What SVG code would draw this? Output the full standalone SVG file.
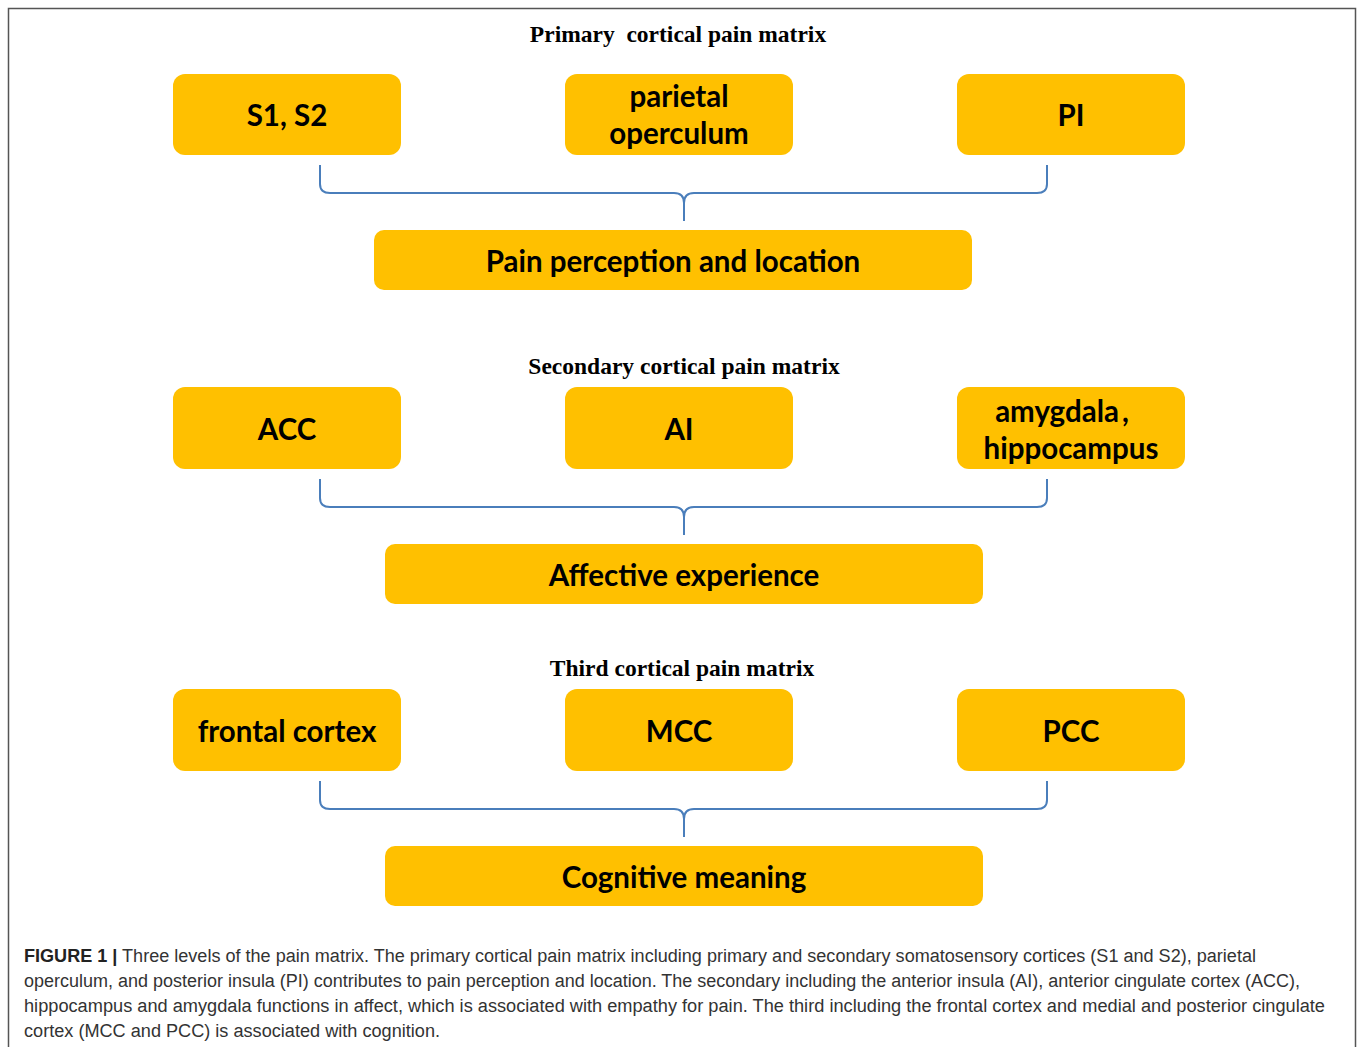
<svg xmlns="http://www.w3.org/2000/svg" width="1357" height="1047" viewBox="0 0 1357 1047">
<style>
.box{fill:#FFC000;}
.bt{font-family:Lato,"Noto Sans",sans-serif;font-weight:bold;font-size:29.5px;fill:#000;text-anchor:middle;}
.ttl{font-family:"Liberation Serif",serif;font-weight:bold;font-size:23.5px;fill:#000;text-anchor:middle;}
.br{fill:none;stroke:#4A7EBB;stroke-width:2;}
.cap{font-family:"Liberation Sans",Arial,sans-serif;font-size:18px;fill:#333;}
</style>
<rect x="0" y="0" width="1357" height="1047" fill="#fff"/>
<path d="M8.5,1047 V8.5 H1355.5 V1047" fill="none" stroke="#555" stroke-width="1.5"/>
<g id="titles">
<text class="ttl" x="678" y="42" xml:space="preserve">Primary  cortical pain matrix</text>
<text class="ttl" x="684" y="374">Secondary cortical pain matrix</text>
<text class="ttl" x="682" y="676">Third cortical pain matrix</text>
</g>
<g id="n-s1s2"><rect class="box" x="173" y="74" width="228" height="81" rx="12"/><text class="bt" x="287" y="126">S1, S2</text></g>
<g id="n-parietal"><rect class="box" x="565" y="74" width="228" height="81" rx="12"/><text class="bt" x="679" y="107">parietal</text><text class="bt" x="679" y="144">operculum</text></g>
<g id="n-pi"><rect class="box" x="957" y="74" width="228" height="81" rx="12"/><text class="bt" x="1071" y="126">PI</text></g>
<g id="n-pain"><rect class="box" x="374" y="230" width="598" height="60" rx="10"/><text class="bt" x="673" y="272">Pain perception and location</text></g>
<g id="n-acc"><rect class="box" x="173" y="387" width="228" height="82" rx="12"/><text class="bt" x="287" y="440">ACC</text></g>
<g id="n-ai"><rect class="box" x="565" y="387" width="228" height="82" rx="12"/><text class="bt" x="679" y="440">AI</text></g>
<g id="n-amyg"><rect class="box" x="957" y="387" width="228" height="82" rx="12"/><text class="bt" x="1062" y="422">amygdala<tspan dx="3">,</tspan></text><text class="bt" x="1071" y="459">hippocampus</text></g>
<g id="n-affect"><rect class="box" x="385" y="544" width="598" height="60" rx="10"/><text class="bt" x="684" y="586">Affective experience</text></g>
<g id="n-frontal"><rect class="box" x="173" y="689" width="228" height="82" rx="12"/><text class="bt" x="287" y="742">frontal cortex</text></g>
<g id="n-mcc"><rect class="box" x="565" y="689" width="228" height="82" rx="12"/><text class="bt" x="679" y="742">MCC</text></g>
<g id="n-pcc"><rect class="box" x="957" y="689" width="228" height="82" rx="12"/><text class="bt" x="1071" y="742">PCC</text></g>
<g id="n-cog"><rect class="box" x="385" y="846" width="598" height="60" rx="10"/><text class="bt" x="684" y="888">Cognitive meaning</text></g>
<g id="connectors">
<path class="br" d="M320,165 V184 Q320,193 330,193 H674 Q684,193 684,203 V221 M684,203 Q684,193 694,193 H1037 Q1047,193 1047,184 V165"/>
<path class="br" d="M320,479 V498 Q320,507 330,507 H674 Q684,507 684,517 V535 M684,517 Q684,507 694,507 H1037 Q1047,507 1047,498 V479"/>
<path class="br" d="M320,781 V800 Q320,809 330,809 H674 Q684,809 684,819 V837 M684,819 Q684,809 694,809 H1037 Q1047,809 1047,800 V781"/>
</g>
<g id="caption">
<text class="cap" x="24" y="962" textLength="1232" lengthAdjust="spacingAndGlyphs"><tspan font-weight="bold" fill="#222">FIGURE 1 |</tspan> Three levels of the pain matrix. The primary cortical pain matrix including primary and secondary somatosensory cortices (S1 and S2), parietal</text>
<text class="cap" x="24" y="987" textLength="1276" lengthAdjust="spacingAndGlyphs">operculum, and posterior insula (PI) contributes to pain perception and location. The secondary including the anterior insula (AI), anterior cingulate cortex (ACC),</text>
<text class="cap" x="24" y="1012" textLength="1301" lengthAdjust="spacingAndGlyphs">hippocampus and amygdala functions in affect, which is associated with empathy for pain. The third including the frontal cortex and medial and posterior cingulate</text>
<text class="cap" x="24" y="1037" textLength="416" lengthAdjust="spacingAndGlyphs">cortex (MCC and PCC) is associated with cognition.</text>
</g>
</svg>
